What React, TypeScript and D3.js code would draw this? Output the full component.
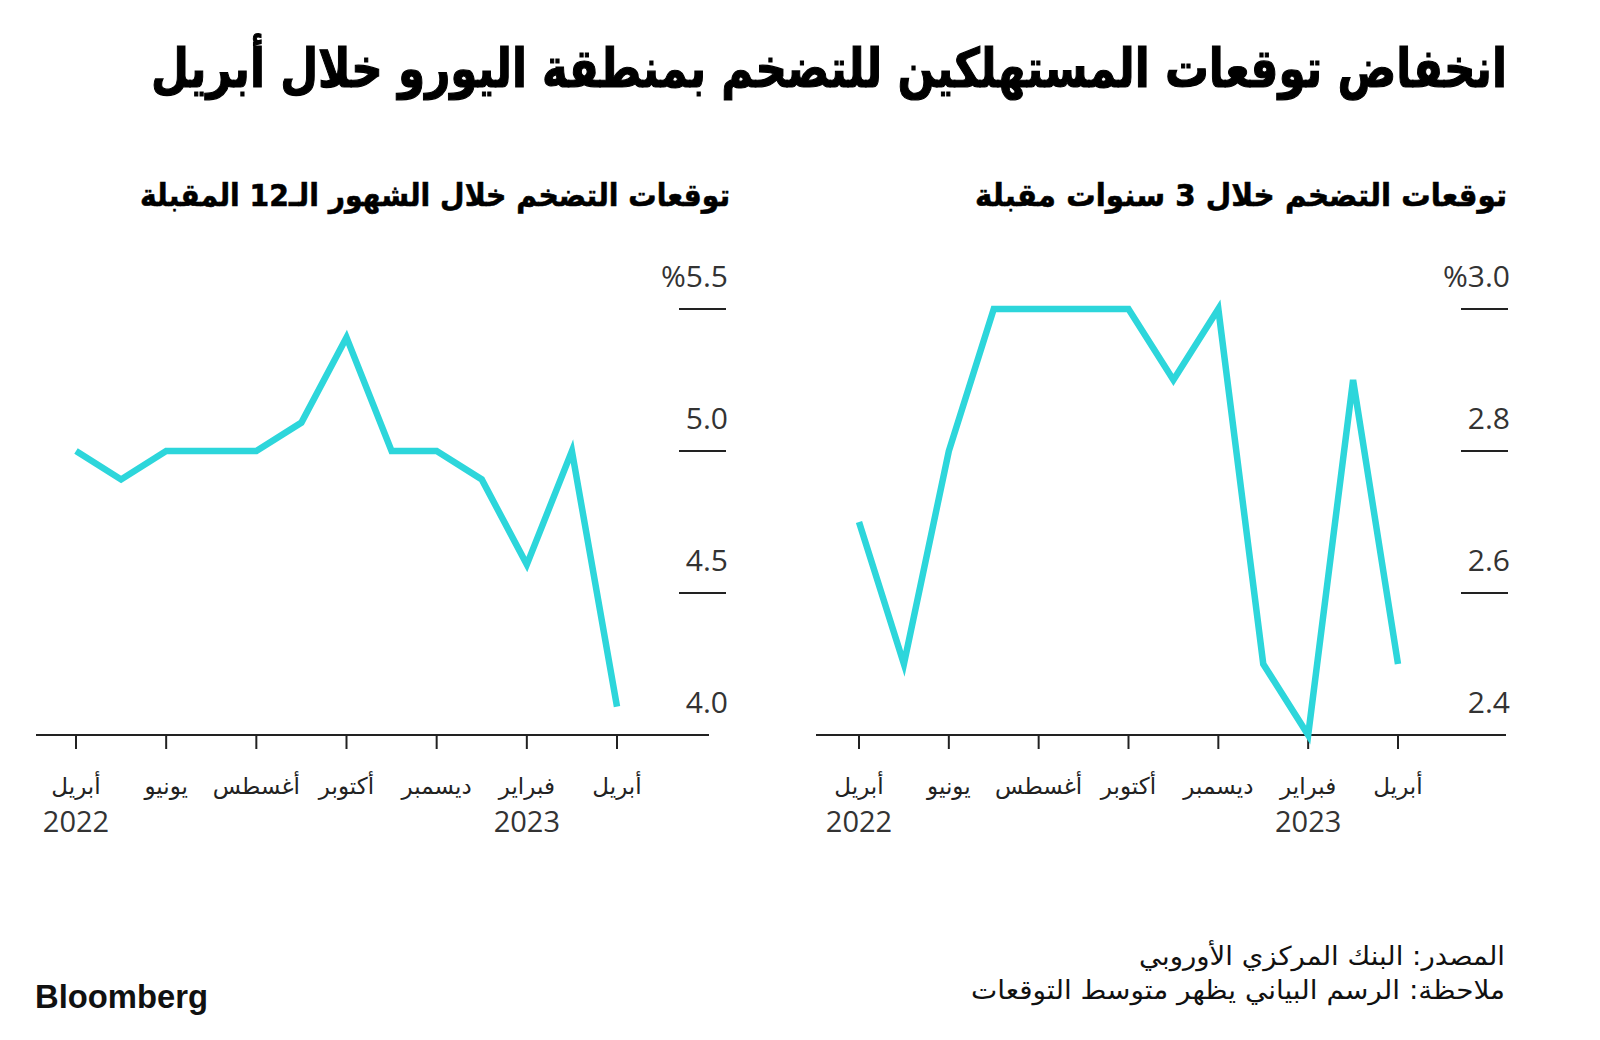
import React from "react";
import * as d3 from "d3";

const months = ["2022-04","2022-05","2022-06","2022-07","2022-08","2022-09","2022-10","2022-11","2022-12","2023-01","2023-02","2023-03","2023-04"];
const tickMonths = ["2022-04","2022-06","2022-08","2022-10","2022-12","2023-02","2023-04"];
const tickMonthLabels = ["أبريل","يونيو","أغسطس","أكتوبر","ديسمبر","فبراير","أبريل"];
const yearLabels = [{ m: "2022-04", label: "2022" }, { m: "2023-02", label: "2023" }];

const values12m = [5.0, 4.9, 5.0, 5.0, 5.0, 5.1, 5.4, 5.0, 5.0, 4.9, 4.6, 5.0, 4.1];
const values3y = [2.7, 2.5, 2.8, 3.0, 3.0, 3.0, 3.0, 2.9, 3.0, 2.5, 2.4, 2.9, 2.5];

const ticks12m = [4.0, 4.5, 5.0, 5.5];
const ticks3y = [2.4, 2.6, 2.8, 3.0];

const title = "انخفاض توقعات المستهلكين للتضخم بمنطقة اليورو خلال أبريل";
const subtitleLeft = "توقعات التضخم خلال الشهور الـ12 المقبلة";
const subtitleRight = "توقعات التضخم خلال 3 سنوات مقبلة";
const sourceText = "المصدر: البنك المركزي الأوروبي";
const noteText = "ملاحظة: الرسم البياني يظهر متوسط التوقعات";

const LINE = "#2dd6db";
const INK = "#222";
const ARABIC = "'DejaVu Sans', sans-serif";
const NUM = "'Open Sans', 'Noto Sans', sans-serif";

type PanelProps = {
  values: number[];
  ticks: number[];
  x0: number;
  x1: number;
  axisL: number;
  axisR: number;
  tickR: number;
};

function Panel({ values, ticks, x0, x1, axisL, axisR, tickR }: PanelProps) {
  const x = d3.scalePoint<string>().domain(months).range([x0, x1]);
  const y = d3.scaleLinear().domain([ticks[0], ticks[ticks.length - 1]]).range([735, 309]);
  const line = d3.line<number>().x((_, i) => x(months[i]) as number).y((d) => y(d)).curve(d3.curveLinear);
  const top = ticks[ticks.length - 1];
  return (
    <g>
      {ticks.map((t) => (
        <g key={t}>
          {t !== ticks[0] && (
            <line x1={tickR - 47} x2={tickR} y1={y(t)} y2={y(t)} stroke={INK} strokeWidth={2} />
          )}
          <text
            x={tickR + 2}
            y={y(t) - 30}
            textAnchor="end"
            fontFamily={NUM}
            fontSize={30}
            fill="#333"
            dominantBaseline="middle"
          >
            {t === top ? "%" + t.toFixed(1) : t.toFixed(1)}
          </text>
        </g>
      ))}
      <line x1={axisL} x2={axisR} y1={735} y2={735} stroke={INK} strokeWidth={2} />
      {tickMonths.map((m, i) => (
        <g key={m + i}>
          <line x1={x(m)} x2={x(m)} y1={735} y2={749} stroke={INK} strokeWidth={2} />
          <text
            x={x(m)}
            y={787}
            textAnchor="middle"
            dominantBaseline="middle"
            fontFamily={ARABIC}
            fontSize={23}
            fill="#222"
          >
            {tickMonthLabels[i]}
          </text>
        </g>
      ))}
      {yearLabels.map((yl) => (
        <text
          key={yl.label}
          x={x(yl.m)}
          y={824}
          textAnchor="middle"
          dominantBaseline="middle"
          fontFamily={NUM}
          fontSize={29}
          fill="#333"
        >
          {yl.label}
        </text>
      ))}
      <path d={line(values) || ""} fill="none" stroke={LINE} strokeWidth={6.5} strokeLinejoin="miter" strokeLinecap="butt" />
    </g>
  );
}

export default function App() {
  return (
    <svg width={1600} height={1040} style={{ display: "block", position: "absolute", left: 0, top: 0 }}>
      <rect width={1600} height={1040} fill="#fff" />
      <text
        x={1507}
        y={72}
        textAnchor="start"
        dominantBaseline="middle"
        fontFamily={ARABIC}
        fontWeight="bold"
        fontSize={54}
        fill="#000"
        direction="rtl"
        textLength={1356}
        lengthAdjust="spacingAndGlyphs"
        stroke="#000"
        strokeWidth={1.2}
      >
        {title}
      </text>
      <text
        x={730}
        y={197}
        textAnchor="start"
        dominantBaseline="middle"
        fontFamily={ARABIC}
        fontWeight="bold"
        fontSize={31}
        fill="#000"
        direction="rtl"
        textLength={590}
        lengthAdjust="spacingAndGlyphs"
        stroke="#000"
        strokeWidth={0.6}
      >
        {subtitleLeft}
      </text>
      <text
        x={1507}
        y={197}
        textAnchor="start"
        dominantBaseline="middle"
        fontFamily={ARABIC}
        fontWeight="bold"
        fontSize={31}
        fill="#000"
        direction="rtl"
        textLength={532}
        lengthAdjust="spacingAndGlyphs"
        stroke="#000"
        strokeWidth={0.6}
      >
        {subtitleRight}
      </text>
      <Panel values={values12m} ticks={ticks12m} x0={76} x1={617} axisL={36} axisR={709} tickR={726} />
      <Panel values={values3y} ticks={ticks3y} x0={859} x1={1398} axisL={816} axisR={1506} tickR={1508} />
      <text
        x={1505}
        y={957}
        textAnchor="start"
        dominantBaseline="middle"
        fontFamily={ARABIC}
        fontSize={26}
        fill="#111"
        direction="rtl"
        textLength={366}
        lengthAdjust="spacingAndGlyphs"
      >
        {sourceText}
      </text>
      <text
        x={1505}
        y={991}
        textAnchor="start"
        dominantBaseline="middle"
        fontFamily={ARABIC}
        fontSize={26}
        fill="#111"
        direction="rtl"
        textLength={534}
        lengthAdjust="spacingAndGlyphs"
      >
        {noteText}
      </text>
      <text
        x={35}
        y={999}
        dominantBaseline="middle"
        fontFamily="'Liberation Sans', Arial, sans-serif"
        fontWeight="bold"
        fontSize={33}
        fill="#111"
        textLength={173}
        lengthAdjust="spacingAndGlyphs"
      >
        Bloomberg
      </text>
    </svg>
  );
}
